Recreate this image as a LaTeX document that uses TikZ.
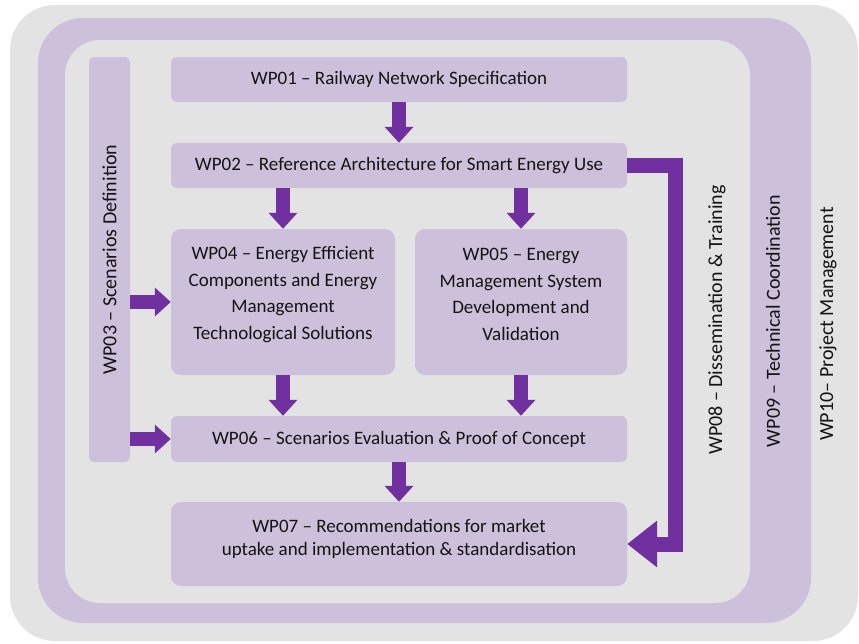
\documentclass[tikz,border=0pt]{standalone}
\usepackage{fontspec}
\setmainfont{Carlito}
\usetikzlibrary{arrows.meta}
\definecolor{bggray}{RGB}{227,227,227}
\definecolor{lav}{RGB}{205,192,218}
\definecolor{arrowpurple}{RGB}{112,48,160}
\definecolor{txt}{RGB}{20,20,20}
\tikzset{
  wpbox/.style={fill=lav, rounded corners=6pt, inner sep=0pt, align=center, text=txt, font=\fontsize{19}{26.5}\selectfont},
  boxtext/.style={inner sep=0pt, align=center, text=txt, font=\fontsize{19}{26.5}\selectfont},
  fatarrow/.style={draw=arrowpurple, line width=14pt, -{Triangle[width=28pt,length=16pt]}},
  sidelabel/.style={rotate=90, text=txt, font=\fontsize{20}{24}\selectfont, inner sep=0pt}
}
\begin{document}
\begin{tikzpicture}[x=1pt,y=-1pt]
\useasboundingbox (0,0) rectangle (859,643);
% WP10 outer gray
\fill[bggray, rounded corners=45pt] (10,5) rectangle (858,641);
% WP09 purple frame
\fill[lav, rounded corners=45pt] (38,18) rectangle (811,623);
\fill[bggray, rounded corners=35pt] (65,40) rectangle (750,603);
% boxes
\node[wpbox, minimum width=456pt, minimum height=45pt] (wp01) at (399,79.5) {WP01 – Railway Network Specification};
\node[wpbox, minimum width=456pt, minimum height=45pt] (wp02) at (399,165.5) {WP02 – Reference Architecture for Smart Energy Use};
\node[wpbox, rounded corners=5pt, minimum width=41pt, minimum height=405pt] (wp03) at (109.5,259.5) {};
\node[sidelabel] at (wp03.center) {WP03 – Scenarios Definition};
\node[wpbox, rounded corners=10pt, minimum width=224pt, minimum height=146pt] (wp04) at (283,302) {};
\node[boxtext] at ([yshift=7.5pt]wp04.center) {WP04 – Energy Efficient\\Components and Energy\\Management\\Technological Solutions};
\node[wpbox, rounded corners=10pt, minimum width=212pt, minimum height=146pt] (wp05) at (521,302) {};
\node[boxtext] at ([yshift=7.5pt]wp05.center) {WP05 – Energy\\Management System\\Development and\\Validation};
\node[wpbox, minimum width=456pt, minimum height=46pt] (wp06) at (399,439) {WP06 – Scenarios Evaluation \& Proof of Concept};
\node[wpbox, rounded corners=10pt, minimum width=456pt, minimum height=84pt] (wp07) at (399,544) {};
\node[boxtext, font=\fontsize{19}{23}\selectfont] at ([yshift=5.5pt]wp07.center) {WP07 – Recommendations for market\\uptake and implementation \& standardisation};
% side labels
\node[sidelabel] (wp08) at (717,320) {WP08 – Dissemination \& Training};
\node[sidelabel] (wp09) at (773,321) {WP09 – Technical Coordination};
\node[sidelabel] (wp10) at (828,324) {WP10– Project Management};
% arrows
\draw[fatarrow] (wp01.south) -- (wp02.north);
\draw[fatarrow] (wp02.south -| wp04.north) -- (wp04.north);
\draw[fatarrow] (wp02.south -| wp05.north) -- (wp05.north);
\draw[fatarrow] (wp04.south) -- (wp04.south |- wp06.north);
\draw[fatarrow] (wp05.south) -- (wp05.south |- wp06.north);
\draw[fatarrow] (wp06.south) -- (wp06.south |- wp07.north);
\draw[fatarrow] (wp03.east |- wp04.west) -- (wp04.west);
\draw[fatarrow] (wp03.east |- wp06.west) -- (wp06.west);
\draw[draw=arrowpurple, line width=15pt, line join=miter, -{Triangle[width=45pt,length=30pt]}] (wp02.east) -- ++(48.5,0) |- (wp07.east);
\end{tikzpicture}
\end{document}
